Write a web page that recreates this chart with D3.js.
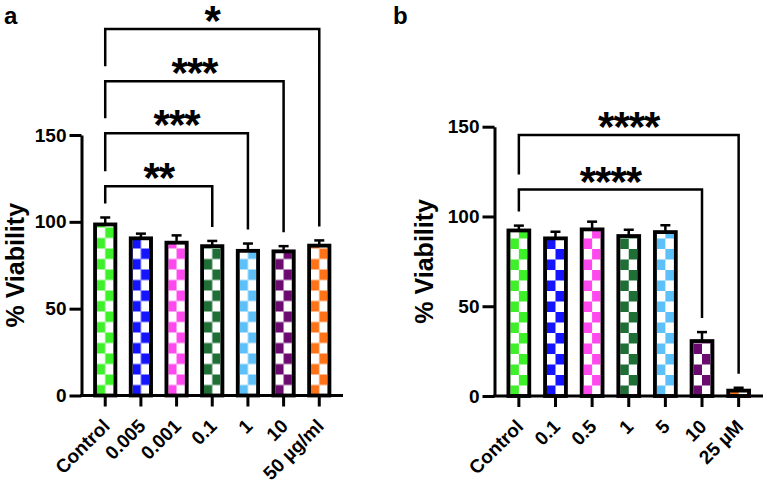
<!DOCTYPE html>
<html lang="en">
<head>
    <meta charset="UTF-8">
    <title>% Viability</title>
    <style>
        body { margin: 0; padding: 0; background: #ffffff; }
        svg text { font-family: "Liberation Sans", Arial, sans-serif; font-weight: bold; fill: #000; }
        .axis path, .axis line { stroke: #000; stroke-width: 3; }
        .axis text { font-size: 19px; font-family: "Liberation Sans", Arial, sans-serif; font-weight: bold; }
    </style>
</head>
<body>
    <script src="https://cdn.jsdelivr.net/npm/d3@7"></script>
    <script>
        // panel a
        var catsA = ['Control', '0.005', '0.001', '0.1', '1', '10', '50 µg/ml'];
        var meanA = [98.5, 90.5, 88, 86, 83.3, 83, 86.3];
        var errA = [4, 2.7, 4.2, 3, 4.2, 3, 3];
        var sigA = [
            { from: 0, to: 3, level: 120.5, stars: '**' },
            { from: 0, to: 4, level: 151, stars: '***' },
            { from: 0, to: 5, level: 181, stars: '***' },
            { from: 0, to: 6, level: 211, stars: '*' }
        ];

        // panel b
        var catsB = ['Control', '0.1', '0.5', '1', '5', '10', '25 µM'];
        var meanB = [92.2, 87.8, 92.8, 89.1, 91.3, 30.6, 3];
        var errB = [2.7, 3.7, 4.3, 3.5, 3.8, 5, 1.6];
        var sigB = [
            { from: 0, to: 5, level: 115, stars: '****' },
            { from: 0, to: 6, level: 145.4, stars: '****' }
        ];

        var yTicks = [0, 50, 100, 150];
        var barColors = ['#3ef02a', '#1414ff', '#ff48ee', '#1e6e35', '#5ec0f8', '#6b0b70', '#ff7318'];

        var W = 767, H = 483;
        var svg = d3.select('body').append('svg')
            .attr('width', W)
            .attr('height', H);
        var defs = svg.append('defs');

        function drawPanel(p) {
            var g = svg.append('g');

            var y = d3.scaleLinear().domain([0, 150]).range([p.y0, p.y150]);
            var x = d3.scaleBand()
                .domain(p.cats)
                .range([p.left, p.right])
                .paddingInner(0.43)
                .paddingOuter(0.38);
            var bw = x.bandwidth();
            var sw = 3.8;

            // checker patterns, one per bar so each starts at its own bar
            p.cats.forEach(function (c, i) {
                var cw = (bw - sw) / 2, ch = 10.5;
                var pat = defs.append('pattern')
                    .attr('id', p.id + '-pat' + i)
                    .attr('patternUnits', 'userSpaceOnUse')
                    .attr('width', cw * 2)
                    .attr('height', ch * 2)
                    .attr('patternTransform', 'translate(' + (x(c) + sw / 2) + ',' + p.y0 + ')');
                pat.append('rect').attr('width', cw * 2).attr('height', ch * 2).attr('fill', '#fff');
                pat.append('rect').attr('x', 0).attr('y', ch).attr('width', cw).attr('height', ch).attr('fill', barColors[i]);
                pat.append('rect').attr('x', cw).attr('y', 0).attr('width', cw).attr('height', ch).attr('fill', barColors[i]);
            });

            // error bars (upper only)
            var eb = g.selectAll('.err').data(p.cats).enter().append('g');
            eb.append('line')
                .attr('x1', function (d) { return x(d) + bw / 2; })
                .attr('x2', function (d) { return x(d) + bw / 2; })
                .attr('y1', function (d, i) { return y(p.mean[i]); })
                .attr('y2', function (d, i) { return y(p.mean[i] + p.err[i]); })
                .attr('stroke', '#000').attr('stroke-width', 2.5);
            eb.append('line')
                .attr('x1', function (d) { return x(d) + bw / 2 - 5; })
                .attr('x2', function (d) { return x(d) + bw / 2 + 5; })
                .attr('y1', function (d, i) { return y(p.mean[i] + p.err[i]); })
                .attr('y2', function (d, i) { return y(p.mean[i] + p.err[i]); })
                .attr('stroke', '#000').attr('stroke-width', 2.5);

            // bars
            g.selectAll('.bar').data(p.cats).enter().append('rect')
                .attr('x', function (d) { return x(d); })
                .attr('y', function (d, i) { return y(p.mean[i]); })
                .attr('width', bw)
                .attr('height', function (d, i) { return y(0) - y(p.mean[i]); })
                .attr('fill', function (d, i) { return 'url(#' + p.id + '-pat' + i + ')'; })
                .attr('stroke', '#000')
                .attr('stroke-width', sw);

            // y axis
            g.append('g')
                .attr('class', 'axis')
                .attr('transform', 'translate(' + p.left + ',0)')
                .call(d3.axisLeft(y).tickValues(yTicks).tickSize(12).tickSizeOuter(0).tickPadding(3));

            // x axis
            var xa = g.append('g')
                .attr('class', 'axis')
                .attr('transform', 'translate(0,' + y(0) + ')')
                .call(d3.axisBottom(x).tickSize(11).tickSizeOuter(0));
            xa.select('.domain').attr('d', 'M' + (p.left - 1.5) + ',0H' + p.right);
            xa.selectAll('.tick text')
                .attr('text-anchor', 'end')
                .attr('y', 0)
                .attr('dy', '0.35em')
                .attr('transform', 'translate(1,27) rotate(-45)');

            // y label
            g.append('text')
                .attr('transform', 'rotate(-90)')
                .attr('x', -(p.y0 + p.y150) / 2)
                .attr('y', p.labelX)
                .attr('text-anchor', 'middle')
                .style('font-size', '25px')
                .text('% Viability');

            // significance brackets
            var cx = function (i) { return x(p.cats[i]) + bw / 2; };
            p.sig.forEach(function (s, k) {
                var ly = y(s.level);
                var leftEnd = k === 0 ? y(p.mean[s.from] + p.err[s.from]) - 14 : y(p.sig[k - 1].level) - 15;
                var rightEnd = y(p.mean[s.to] + p.err[s.to]) - 14;
                g.append('path')
                    .attr('d', 'M' + cx(s.from) + ',' + leftEnd + 'V' + ly + 'H' + cx(s.to) + 'V' + rightEnd)
                    .attr('fill', 'none')
                    .attr('stroke', '#000')
                    .attr('stroke-width', 2.5);
                g.append('text')
                    .attr('x', (cx(s.from) + cx(s.to)) / 2)
                    .attr('y', ly + 6)
                    .attr('text-anchor', 'middle')
                    .style('font-size', '42px')
                    .style('letter-spacing', '-1px')
                    .text(s.stars);
            });

            // panel letter
            g.append('text')
                .attr('x', p.letterX)
                .attr('y', 24)
                .style('font-size', '24px')
                .text(p.letter);
        }

        drawPanel({ id: 'a', letter: 'a', letterX: 4, cats: catsA, mean: meanA, err: errA, sig: sigA,
            left: 81.5, right: 343, y0: 395.5, y150: 135, labelX: 24 });
        drawPanel({ id: 'b', letter: 'b', letterX: 393, cats: catsB, mean: meanB, err: errB, sig: sigB,
            left: 494.5, right: 763, y0: 396, y150: 126.7, labelX: 433 });
    </script>
</body>
</html>
